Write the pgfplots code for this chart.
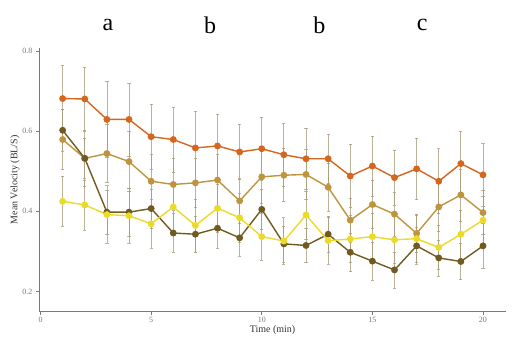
\documentclass[border=0pt]{standalone}
\usepackage{pgfplots}
\pgfplotsset{compat=1.18}
\usepackage{fontspec}
\setmainfont{Liberation Serif}
\definecolor{cor}{RGB}{214,102,30}
\definecolor{ctan}{RGB}{190,148,62}
\definecolor{cdark}{RGB}{112,90,32}
\definecolor{cyel}{RGB}{236,218,40}
\definecolor{cerr}{RGB}{165,155,120}
\definecolor{axgray}{RGB}{120,120,120}
\begin{document}
\begin{tikzpicture}
\useasboundingbox (0,0) rectangle (517pt,342pt);
\begin{axis}[
  at={(39pt,30.3pt)}, anchor=south west,
  scale only axis, width=467pt, height=263.7pt,
  xmin=-0.07, xmax=21.04, ymin=0.15, ymax=0.807,
  axis lines=left, axis line style={axgray, line width=0.9pt, -},
  xtick={0,5,10,15,20}, ytick={0.2,0.4,0.6,0.8},
  yticklabel style={/pgf/number format/fixed,/pgf/number format/precision=1},
  /pgf/number format/assume math mode=true,
  tick style={axgray, line width=0.6pt},
  major tick length=3pt,
  tick align=outside,
  ticklabel style={font=\fontsize{8}{9}\selectfont, text=axgray},
  xticklabel style={yshift=1pt},
  xlabel={Time (min)}, ylabel={Mean Velocity (BL/S)},
  label style={font=\fontsize{10}{11}\selectfont, text=black!80},
  xlabel style={yshift=4pt},
  ylabel style={yshift=-4pt},
  clip=false,
  every axis plot/.append style={line width=1.4pt, mark=*, mark size=2.7pt,
    error bars/y dir=both, error bars/y explicit,
    error bars/error bar style={cerr, opacity=0.75, line width=0.8pt},
    error bars/error mark options={rotate=90, mark size=1.6pt, cerr, line width=0.6pt}},
]
\addplot[color=cor, mark options={fill=cor}] table[x=x,y=y,y error=e]{
x y e
1 0.681 0.083
2 0.680 0.080
3 0.629 0.094
4 0.629 0.091
5 0.586 0.081
6 0.579 0.081
7 0.558 0.092
8 0.563 0.080
9 0.548 0.069
10 0.556 0.078
11 0.541 0.079
12 0.531 0.077
13 0.531 0.062
14 0.488 0.079
15 0.513 0.075
16 0.484 0.069
17 0.506 0.077
18 0.475 0.081
19 0.519 0.081
20 0.491 0.078
};
\addplot[color=ctan, mark options={fill=ctan}] table[x=x,y=y,y error=e]{
x y e
1 0.579 0.075
2 0.532 0.070
3 0.544 0.072
4 0.524 0.075
5 0.475 0.066
6 0.467 0.065
7 0.471 0.062
8 0.478 0.063
9 0.426 0.057
10 0.486 0.066
11 0.490 0.066
12 0.492 0.062
13 0.460 0.060
14 0.378 0.055
15 0.417 0.060
16 0.393 0.055
17 0.345 0.048
18 0.411 0.060
19 0.441 0.065
20 0.397 0.055
};
\addplot[color=cdark, mark options={fill=cdark}] table[x=x,y=y,y error=e]{
x y e
1 0.602 0.052
2 0.532 0.050
3 0.398 0.055
4 0.398 0.060
5 0.407 0.048
6 0.346 0.048
7 0.343 0.045
8 0.358 0.050
9 0.334 0.046
10 0.405 0.050
11 0.319 0.045
12 0.315 0.043
13 0.343 0.045
14 0.298 0.048
15 0.276 0.048
16 0.254 0.045
17 0.314 0.046
18 0.284 0.045
19 0.275 0.045
20 0.314 0.056
};
\addplot[color=cyel, mark options={fill=cyel}] table[x=x,y=y,y error=e]{
x y e
1 0.425 0.062
2 0.416 0.062
3 0.392 0.072
4 0.389 0.068
5 0.369 0.060
6 0.411 0.062
7 0.365 0.066
8 0.408 0.060
9 0.384 0.060
10 0.337 0.058
11 0.326 0.058
12 0.391 0.060
13 0.327 0.058
14 0.331 0.058
15 0.337 0.058
16 0.329 0.058
17 0.332 0.058
18 0.310 0.055
19 0.343 0.060
20 0.378 0.060
};
\node[font=\fontsize{24}{26}\selectfont] at (axis cs:3.05,0.864) {a};
\node[font=\fontsize{24}{26}\selectfont] at (axis cs:7.66,0.864) {b};
\node[font=\fontsize{24}{26}\selectfont] at (axis cs:12.6,0.864) {b};
\node[font=\fontsize{24}{26}\selectfont] at (axis cs:17.25,0.864) {c};
\end{axis}
\end{tikzpicture}
\end{document}
